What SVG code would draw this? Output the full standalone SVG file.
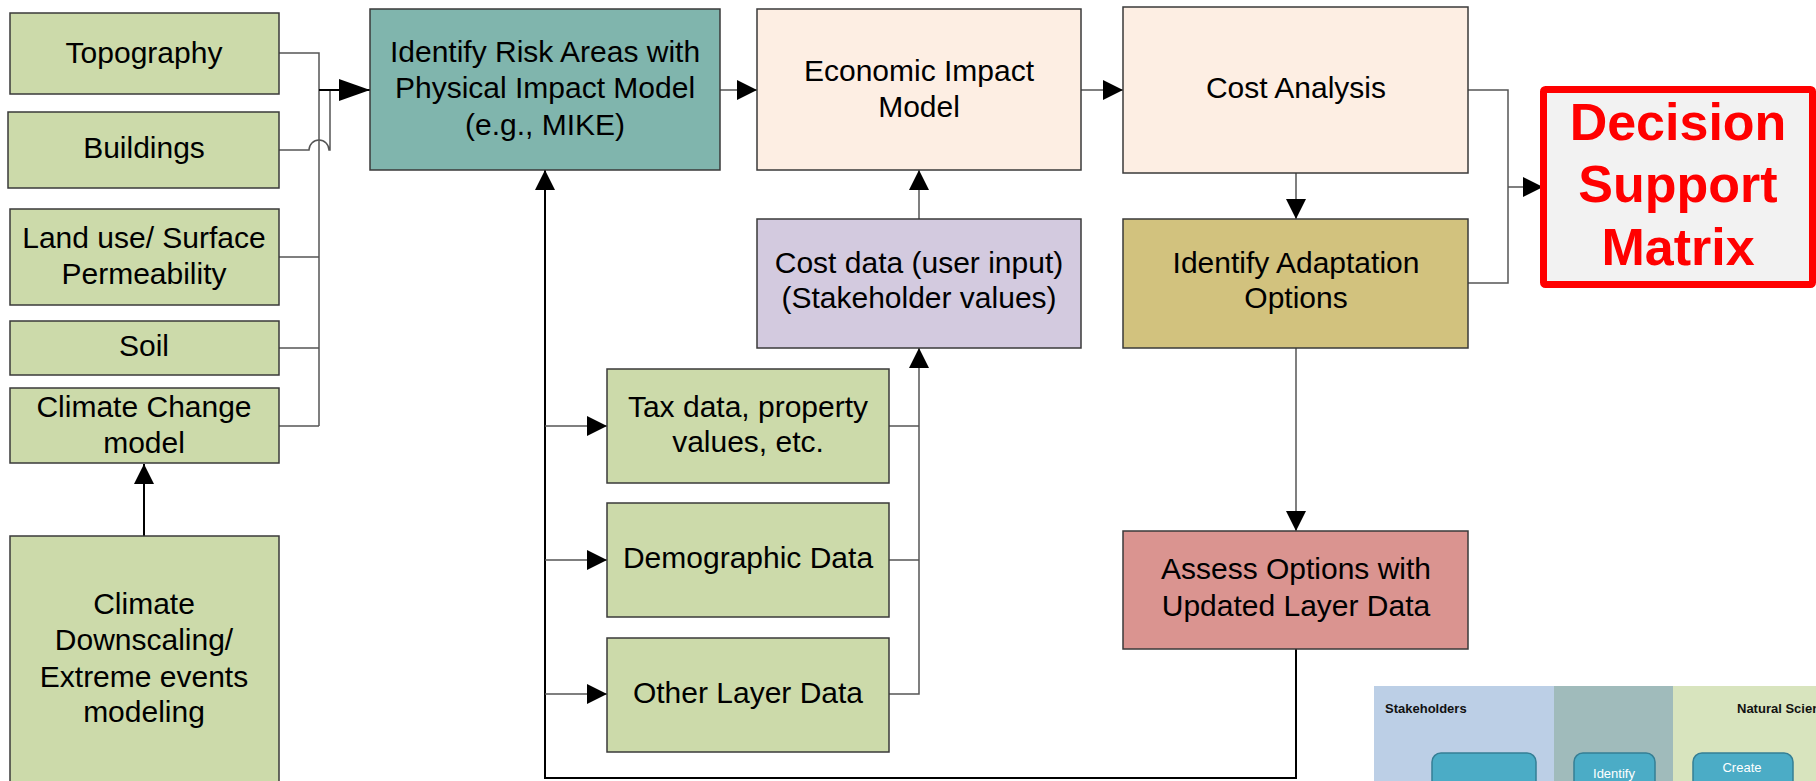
<svg xmlns="http://www.w3.org/2000/svg" width="1816" height="781" viewBox="0 0 1816 781">
  <style>
    .box { stroke: #3a3a3a; stroke-width: 1.5; }
    .green { fill: #CCDAAA; }
    .teal { fill: #80B5AD; }
    .peach { fill: #FDEEE3; }
    .lav { fill: #D3CADF; }
    .khaki { fill: #D2C27E; }
    .pink { fill: #DA9490; }
    .lbl { font-family: "Liberation Sans", Arial, sans-serif; font-size: 30px; fill: #000; text-anchor: middle; }
    .big { font-family: "Liberation Sans", Arial, sans-serif; font-size: 52px; font-weight: bold; fill: #FF0000; text-anchor: middle; }
    .wire { fill: none; stroke: #555; stroke-width: 1.5; }
    .wire-k { fill: none; stroke: #000; stroke-width: 2; }
    .small-b { font-family: "Liberation Sans", Arial, sans-serif; font-size: 13px; font-weight: bold; fill: #111; }
    .small-w { font-family: "Liberation Sans", Arial, sans-serif; font-size: 13px; fill: #fff; text-anchor: middle; }
  </style>
  <defs>
    <marker id="arrow" markerUnits="userSpaceOnUse" markerWidth="20" markerHeight="20" refX="20" refY="10" orient="auto">
      <path d="M0,0 L20,10 L0,20 Z" fill="#000"/>
    </marker>
    <marker id="arrow-lg" markerUnits="userSpaceOnUse" markerWidth="31" markerHeight="22" refX="31" refY="11" orient="auto">
      <path d="M0,0 L31,11 L0,22 Z" fill="#000"/>
    </marker>
  </defs>

  <rect width="1816" height="781" fill="#fff"/>

  <!-- inset panel in the lower right corner -->
  <g id="inset">
    <rect x="1374" y="686" width="180" height="100" fill="#BCCFE6"/>
    <rect x="1554" y="686" width="119" height="100" fill="#A0BBBB"/>
    <rect x="1673" y="686" width="150" height="100" fill="#D8E4BE"/>
    <text class="small-b" x="1385" y="713">Stakeholders</text>
    <text class="small-b" x="1737" y="713">Natural Scien</text>
    <rect x="1432" y="753" width="104" height="50" rx="9" fill="#4BACC6" stroke="#357F95" stroke-width="1.5"/>
    <rect x="1574" y="753" width="81" height="50" rx="9" fill="#4BACC6" stroke="#357F95" stroke-width="1.5"/>
    <rect x="1693" y="753" width="100" height="50" rx="9" fill="#4BACC6" stroke="#357F95" stroke-width="1.5"/>
    <text class="small-w" x="1614" y="778">Identify</text>
    <text class="small-w" x="1742" y="772">Create</text>
  </g>

  <!-- connectors -->
  <g id="connectors">
    <!-- inputs collected on a bus into the physical impact model -->
    <path class="wire" d="M279,53 H319 V426"/>
    <path class="wire" d="M279,150 H309 A10,10 0 0 1 329,150 H330 V90"/>
    <path class="wire" d="M279,257 H319"/>
    <path class="wire" d="M279,348 H319"/>
    <path class="wire" d="M279,426 H319"/>
    <path class="wire-k" d="M319,90 H370" marker-end="url(#arrow-lg)"/>
    <!-- downscaling feeds the climate change model -->
    <path class="wire-k" d="M144,536 V464" stroke-width="1.5" marker-end="url(#arrow)"/>
    <!-- main chain -->
    <path class="wire" d="M720,90 H757" marker-end="url(#arrow)"/>
    <path class="wire" d="M1081,90 H1123" marker-end="url(#arrow)"/>
    <path class="wire" d="M919,219 V170" marker-end="url(#arrow)"/>
    <path class="wire" d="M1296,173 V219" marker-end="url(#arrow)"/>
    <path class="wire" d="M1296,348 V531" marker-end="url(#arrow)"/>
    <!-- results into the decision matrix -->
    <path class="wire" d="M1468,90 H1508 V283 H1468"/>
    <path class="wire" d="M1508,187 H1543" marker-end="url(#arrow)"/>
    <!-- layer data into cost data -->
    <path class="wire" d="M889,426 H919"/>
    <path class="wire" d="M889,560 H919"/>
    <path class="wire" d="M889,694 H919 V348" marker-end="url(#arrow)"/>
    <!-- feedback loop from the option assessment -->
    <path class="wire-k" d="M1296,649 V778 H545 V170" marker-end="url(#arrow)"/>
    <path class="wire" d="M545,426 H607" marker-end="url(#arrow)"/>
    <path class="wire" d="M545,560 H607" marker-end="url(#arrow)"/>
    <path class="wire" d="M545,694 H607" marker-end="url(#arrow)"/>
  </g>

  <!-- input layers -->
  <g id="topography">
    <rect class="box green" x="10" y="13" width="269" height="81"/>
    <text class="lbl" x="144" y="63">Topography</text>
  </g>
  <g id="buildings">
    <rect class="box green" x="8" y="112" width="271" height="76"/>
    <text class="lbl" x="144" y="158">Buildings</text>
  </g>
  <g id="land-use">
    <rect class="box green" x="10" y="209" width="269" height="96"/>
    <text class="lbl" x="144" y="248">Land use/ Surface</text>
    <text class="lbl" x="144" y="284">Permeability</text>
  </g>
  <g id="soil">
    <rect class="box green" x="10" y="321" width="269" height="54"/>
    <text class="lbl" x="144" y="356">Soil</text>
  </g>
  <g id="climate-change">
    <rect class="box green" x="10" y="388" width="269" height="75"/>
    <text class="lbl" x="144" y="417">Climate Change</text>
    <text class="lbl" x="144" y="453">model</text>
  </g>
  <g id="downscaling">
    <rect class="box green" x="10" y="536" width="269" height="260"/>
    <text class="lbl" x="144" y="614">Climate</text>
    <text class="lbl" x="144" y="650">Downscaling/</text>
    <text class="lbl" x="144" y="687">Extreme events</text>
    <text class="lbl" x="144" y="722">modeling</text>
  </g>

  <!-- modelling chain -->
  <g id="risk-areas">
    <rect class="box teal" x="370" y="9" width="350" height="161"/>
    <text class="lbl" x="545" y="62">Identify Risk Areas with</text>
    <text class="lbl" x="545" y="98">Physical Impact Model</text>
    <text class="lbl" x="545" y="135">(e.g., MIKE)</text>
  </g>
  <g id="economic-impact">
    <rect class="box peach" x="757" y="9" width="324" height="161"/>
    <text class="lbl" x="919" y="81">Economic Impact</text>
    <text class="lbl" x="919" y="117">Model</text>
  </g>
  <g id="cost-data">
    <rect class="box lav" x="757" y="219" width="324" height="129"/>
    <text class="lbl" x="919" y="273">Cost data (user input)</text>
    <text class="lbl" x="919" y="308">(Stakeholder values)</text>
  </g>
  <g id="cost-analysis">
    <rect class="box peach" x="1123" y="7" width="345" height="166"/>
    <text class="lbl" x="1296" y="98">Cost Analysis</text>
  </g>
  <g id="adaptation">
    <rect class="box khaki" x="1123" y="219" width="345" height="129"/>
    <text class="lbl" x="1296" y="273">Identify Adaptation</text>
    <text class="lbl" x="1296" y="308">Options</text>
  </g>
  <g id="assess-options">
    <rect class="box pink" x="1123" y="531" width="345" height="118"/>
    <text class="lbl" x="1296" y="579">Assess Options with</text>
    <text class="lbl" x="1296" y="616">Updated Layer Data</text>
  </g>
  <g id="decision-matrix">
    <rect x="1543.5" y="89.5" width="269" height="195" rx="2" fill="#F2F2F2" stroke="#FF0000" stroke-width="7"/>
    <text class="big" x="1678" y="140">Decision</text>
    <text class="big" x="1678" y="202">Support</text>
    <text class="big" x="1678" y="265">Matrix</text>
  </g>

  <!-- socio-economic data layers -->
  <g id="tax-data">
    <rect class="box green" x="607" y="369" width="282" height="114"/>
    <text class="lbl" x="748" y="417">Tax data, property</text>
    <text class="lbl" x="748" y="452">values, etc.</text>
  </g>
  <g id="demographic">
    <rect class="box green" x="607" y="503" width="282" height="114"/>
    <text class="lbl" x="748" y="568">Demographic Data</text>
  </g>
  <g id="other-layers">
    <rect class="box green" x="607" y="638" width="282" height="114"/>
    <text class="lbl" x="748" y="703">Other Layer Data</text>
  </g>
</svg>
